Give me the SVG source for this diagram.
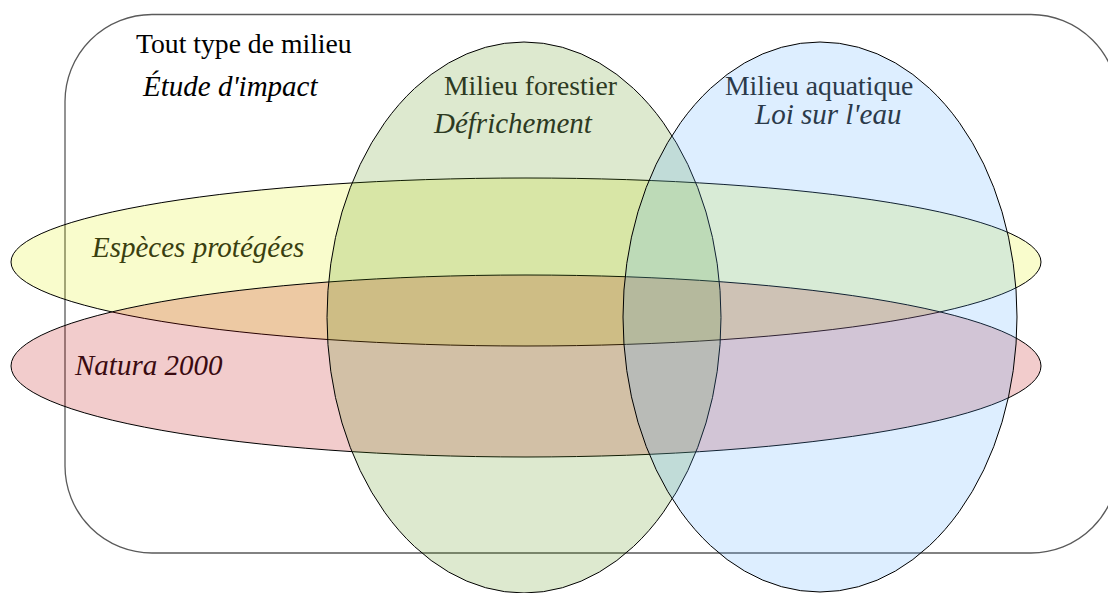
<svg xmlns="http://www.w3.org/2000/svg" width="1108" height="593" viewBox="0 0 1108 593">
<style>
.shape{stroke:#000;stroke-width:1;fill-opacity:0.2}
.reg{font-family:"Liberation Serif","Times New Roman",serif;font-size:27.7px}
.it{font-family:"Liberation Serif","Times New Roman",serif;font-size:29px;font-style:italic}
</style>
<rect x="0" y="0" width="1108" height="593" fill="#fff"/>
<g id="tout-milieu">
<rect x="65" y="14.5" width="1053" height="538.5" rx="87" ry="87" fill="none" stroke="#5a5a5a" stroke-width="1.3"/>
<text class="reg" x="136" y="53" fill="#000">Tout type de milieu</text>
<text class="it" x="143" y="96" fill="#000">Étude d'impact</text>
</g>
<g id="especes-protegees">
<ellipse class="shape" cx="526" cy="262" rx="515" ry="84" fill="#e1f000"/>
</g>
<g id="natura-2000">
<ellipse class="shape" cx="526" cy="366" rx="515" ry="91" fill="#be0000"/>
</g>
<g id="milieu-forestier">
<ellipse class="shape" cx="524" cy="317.5" rx="197" ry="275.5" fill="#55910f"/>
</g>
<g id="milieu-aquatique">
<ellipse class="shape" cx="820" cy="317" rx="197" ry="275" fill="#55aaff"/>
</g>
<g id="labels">
<text class="reg" x="444" y="95" fill="#2d3a22">Milieu forestier</text>
<text class="it" x="434" y="133" fill="#2d3a22">Défrichement</text>
<text class="reg" x="725" y="95" fill="#2b3a4a">Milieu aquatique</text>
<text class="it" x="755" y="124" fill="#2b3a4a">Loi sur l'eau</text>
<text class="it" x="92" y="257" fill="#3a3f10">Espèces protégées</text>
<text class="it" x="75" y="375" fill="#3a0a10">Natura 2000</text>
</g>
<g id="connectors"></g>
</svg>
